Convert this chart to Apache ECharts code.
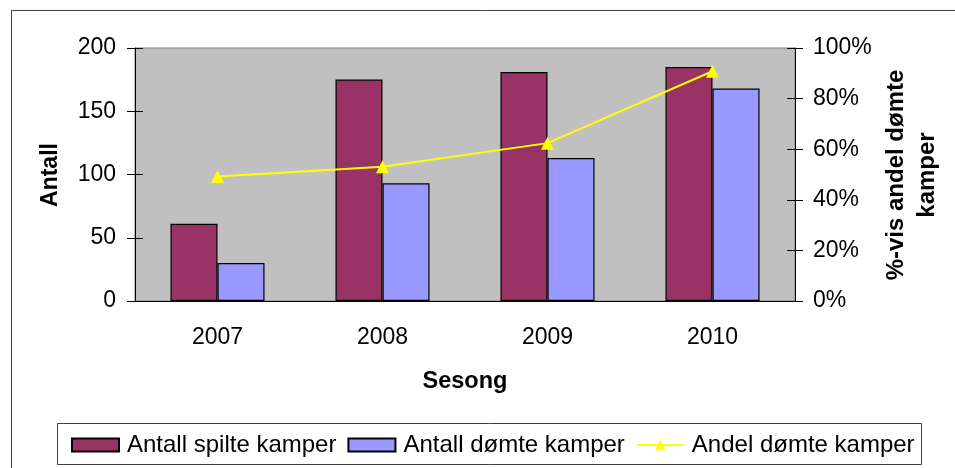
<!DOCTYPE html>
<html>
<head>
<meta charset="utf-8">
<title>Antall kamper per sesong</title>
<script src="https://cdn.jsdelivr.net/npm/echarts@6/dist/echarts.min.js"></script>
<style>
  html, body { margin: 0; padding: 0; background: #fff; }
  #main { width: 955px; height: 468px; }
</style>
</head>
<body>
<div id="main"></div>
<script>
// data
var seasons = ['2007', '2008', '2009', '2010'];
var playedMatches = [61, 175, 181, 185];   // Antall spilte kamper
var judgedMatches = [30, 93, 113, 168];    // Antall dømte kamper
var judgedShare = [49.2, 53.1, 62.4, 90.8]; // Andel dømte kamper (%)
var countTicks = [0, 50, 100, 150, 200];
var shareTicks = [0, 20, 40, 60, 80, 100];

var FONT = "'Liberation Sans', Arial, sans-serif";
var chart = echarts.init(document.getElementById('main'));

function valueAxis(position, ticks, inside, fmt) {
  return {
    type: 'value',
    position: position,
    min: ticks[0],
    max: ticks[ticks.length - 1],
    interval: ticks[1] - ticks[0],
    splitLine: { show: false },
    axisLine: { show: !inside, lineStyle: { color: '#000', width: 1 } },
    axisTick: { show: true, inside: inside, length: 8, lineStyle: { color: '#000' } },
    axisLabel: {
      show: !inside,
      margin: position === 'left' ? 19 : 18,
      color: '#000',
      fontSize: 23,
      fontFamily: FONT,
      formatter: fmt
    }
  };
}

var option = {
  animation: false,
  backgroundColor: '#fff',
  grid: {
    left: 135, right: 160, top: 48, bottom: 167,
    show: true,
    backgroundColor: '#c0c0c0',
    borderColor: '#808080',
    borderWidth: 1
  },
  xAxis: [{
    type: 'category',
    data: seasons,
    position: 'bottom',
    axisLine: { lineStyle: { color: '#000', width: 1 } },
    axisTick: { length: 8, lineStyle: { color: '#000' } },
    axisLabel: { margin: 25, color: '#000', fontSize: 23, fontFamily: FONT }
  }, {
    type: 'category',
    data: seasons,
    position: 'bottom',
    axisLine: { show: false },
    axisTick: { inside: true, length: 8, lineStyle: { color: '#000' } },
    axisLabel: { show: false }
  }],
  yAxis: [
    valueAxis('left', countTicks, false, '{value}'),
    valueAxis('right', shareTicks, false, '{value}%'),
    valueAxis('left', countTicks, true),
    valueAxis('right', shareTicks, true)
  ],
  legend: {
    left: 66,
    top: 428,
    itemWidth: 47,
    itemHeight: 13,
    itemGap: 11,
    textStyle: { color: '#000', fontSize: 24, fontFamily: FONT, padding: [0, 0, 0, 3] },
    data: [
      { name: 'Antall spilte kamper', icon: 'rect' },
      { name: 'Antall dømte kamper', icon: 'rect' },
      { name: 'Andel dømte kamper' }
    ]
  },
  graphic: [
    {
      type: 'rect', silent: true,
      shape: { x: 11.5, y: 10.5, width: 960, height: 480 },
      style: { fill: 'none', stroke: '#404040', lineWidth: 1 }
    },
    {
      type: 'rect', silent: true,
      shape: { x: 57.5, y: 423.5, width: 864, height: 41 },
      style: { fill: '#fff', stroke: '#404040', lineWidth: 1 }
    },
    {
      type: 'text', x: 51, y: 175, rotation: Math.PI / 2,
      style: { text: 'Antall', fill: '#000', font: 'bold 23px ' + FONT, align: 'center', verticalAlign: 'middle' }
    },
    {
      type: 'text', x: 465, y: 382,
      style: { text: 'Sesong', fill: '#000', font: 'bold 23.5px ' + FONT, align: 'center', verticalAlign: 'middle' }
    },
    {
      type: 'text', x: 912, y: 175, rotation: Math.PI / 2,
      style: {
        text: '%-vis andel dømte\nkamper', fill: '#000', font: 'bold 24px ' + FONT,
        lineHeight: 31, align: 'center', verticalAlign: 'middle'
      }
    }
  ],
  series: [{
    name: 'Antall spilte kamper',
    type: 'bar',
    data: playedMatches,
    barGap: '0%',
    barCategoryGap: '43%',
    itemStyle: { color: '#993366', borderColor: '#000', borderWidth: 1.2 }
  }, {
    name: 'Antall dømte kamper',
    type: 'bar',
    data: judgedMatches,
    itemStyle: { color: '#9999ff', borderColor: '#000', borderWidth: 1.2 }
  }, {
    name: 'Andel dømte kamper',
    type: 'line',
    yAxisIndex: 1,
    data: judgedShare,
    symbol: 'triangle',
    symbolSize: 13,
    itemStyle: { color: '#ffff00' },
    lineStyle: { color: '#ffff00', width: 2 }
  }]
};

chart.setOption(option);
</script>
</body>
</html>
